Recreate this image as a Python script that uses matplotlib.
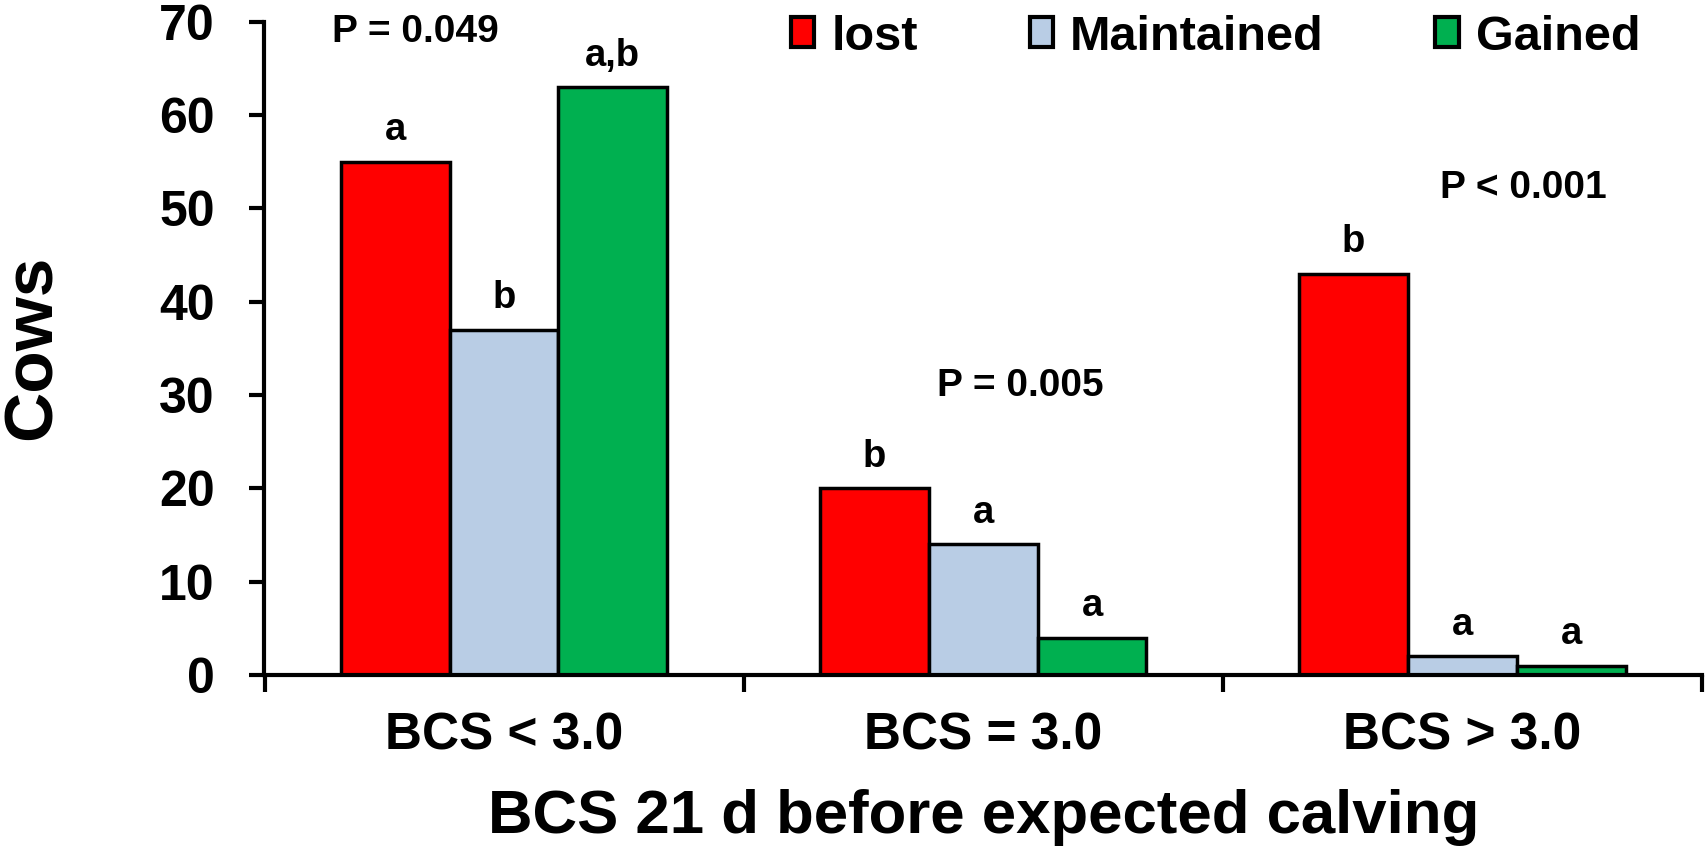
import matplotlib
matplotlib.use("Agg")
import matplotlib.pyplot as plt
from matplotlib.patches import Patch
import numpy as np

# ---- data ----
categories = ["BCS < 3.0", "BCS = 3.0", "BCS > 3.0"]
series_names = ["lost", "Maintained", "Gained"]
lost = [55, 20, 43]
maintained = [37, 14, 2]
gained = [63, 4, 1]
lost_letters = ["a", "b", "b"]
maintained_letters = ["b", "a", "a"]
gained_letters = ["a,b", "a", "a"]
p_texts = ["P = 0.049", "P = 0.005", "P < 0.001"]
p_pos = [(-0.186, 68.9), (1.078, 31.0), (2.128, 52.2)]
y_ticks = [0, 10, 20, 30, 40, 50, 60, 70]
colors = ["#FF0000", "#B9CDE5", "#00B050"]

plt.rcParams['font.family'] = ['Liberation Sans', 'DejaVu Sans']
plt.rcParams['font.weight'] = 'bold'

fig = plt.figure(figsize=(17.06, 8.49), dpi=100)
ax = fig.add_axes([264.5 / 1706, 1 - 675 / 849, 1437.5 / 1706, 653.3 / 849])

x = np.arange(len(categories))
w = 0.227
series = [lost, maintained, gained]
letters = [lost_letters, maintained_letters, gained_letters]
for i, (vals, col, lets) in enumerate(zip(series, colors, letters)):
    xs = x + (i - 1) * w
    ax.bar(xs, vals, width=w, color=col, edgecolor="black", linewidth=2.5,
           zorder=2, label=series_names[i])
    for xi, v, l in zip(xs, vals, lets):
        ax.text(xi, v + 2.3, l, ha="center", va="baseline", fontsize=27.5,
                fontweight="bold", clip_on=False)

for t, (px, py) in zip(p_texts, p_pos):
    ax.text(px, py, t, ha="center", va="center", fontsize=28,
            fontweight="bold", clip_on=False)

ax.set_xlim(-0.5, 2.5)
ax.set_ylim(0, 70)
ax.set_yticks(y_ticks)
ax.set_yticklabels([str(v) for v in y_ticks], fontsize=36, fontweight="bold")
ax.set_xticks([-0.5, 0.5, 1.5, 2.5])
ax.set_xticklabels([])
ax.set_xticks(x, minor=True)
ax.set_xticklabels(categories, minor=True, fontsize=37, fontweight="bold")
ax.tick_params(axis="x", which="minor", length=0, pad=26)
ax.tick_params(axis="x", which="major", length=12, width=3, direction="out")
ax.tick_params(axis="y", length=11, width=3, direction="out", pad=25)

for s in ["top", "right"]:
    ax.spines[s].set_visible(False)
for s in ["left", "bottom"]:
    ax.spines[s].set_linewidth(3)
    ax.spines[s].set_zorder(3)

fig.text(33 / 1706, 1 - 347 / 849, "Cows", rotation=90, ha="center",
         va="center", fontsize=50, fontweight="bold")
fig.text(984 / 1706, 1 - 817 / 849, "BCS 21 d before expected calving",
         ha="center", va="center", fontsize=44.5, fontweight="bold")

handles = [Patch(facecolor=c, edgecolor="black", linewidth=3) for c in colors]
fig.legend(handles, series_names, loc="center", ncol=3,
           bbox_to_anchor=(1215.5 / 1706, 1 - 37 / 849), frameon=False,
           prop={"size": 35, "weight": "bold"}, handlelength=0.48,
           handleheight=0.58, handletextpad=0.35, columnspacing=2.3,
           borderpad=0, borderaxespad=0)

fig.savefig("out.png", dpi=100)
